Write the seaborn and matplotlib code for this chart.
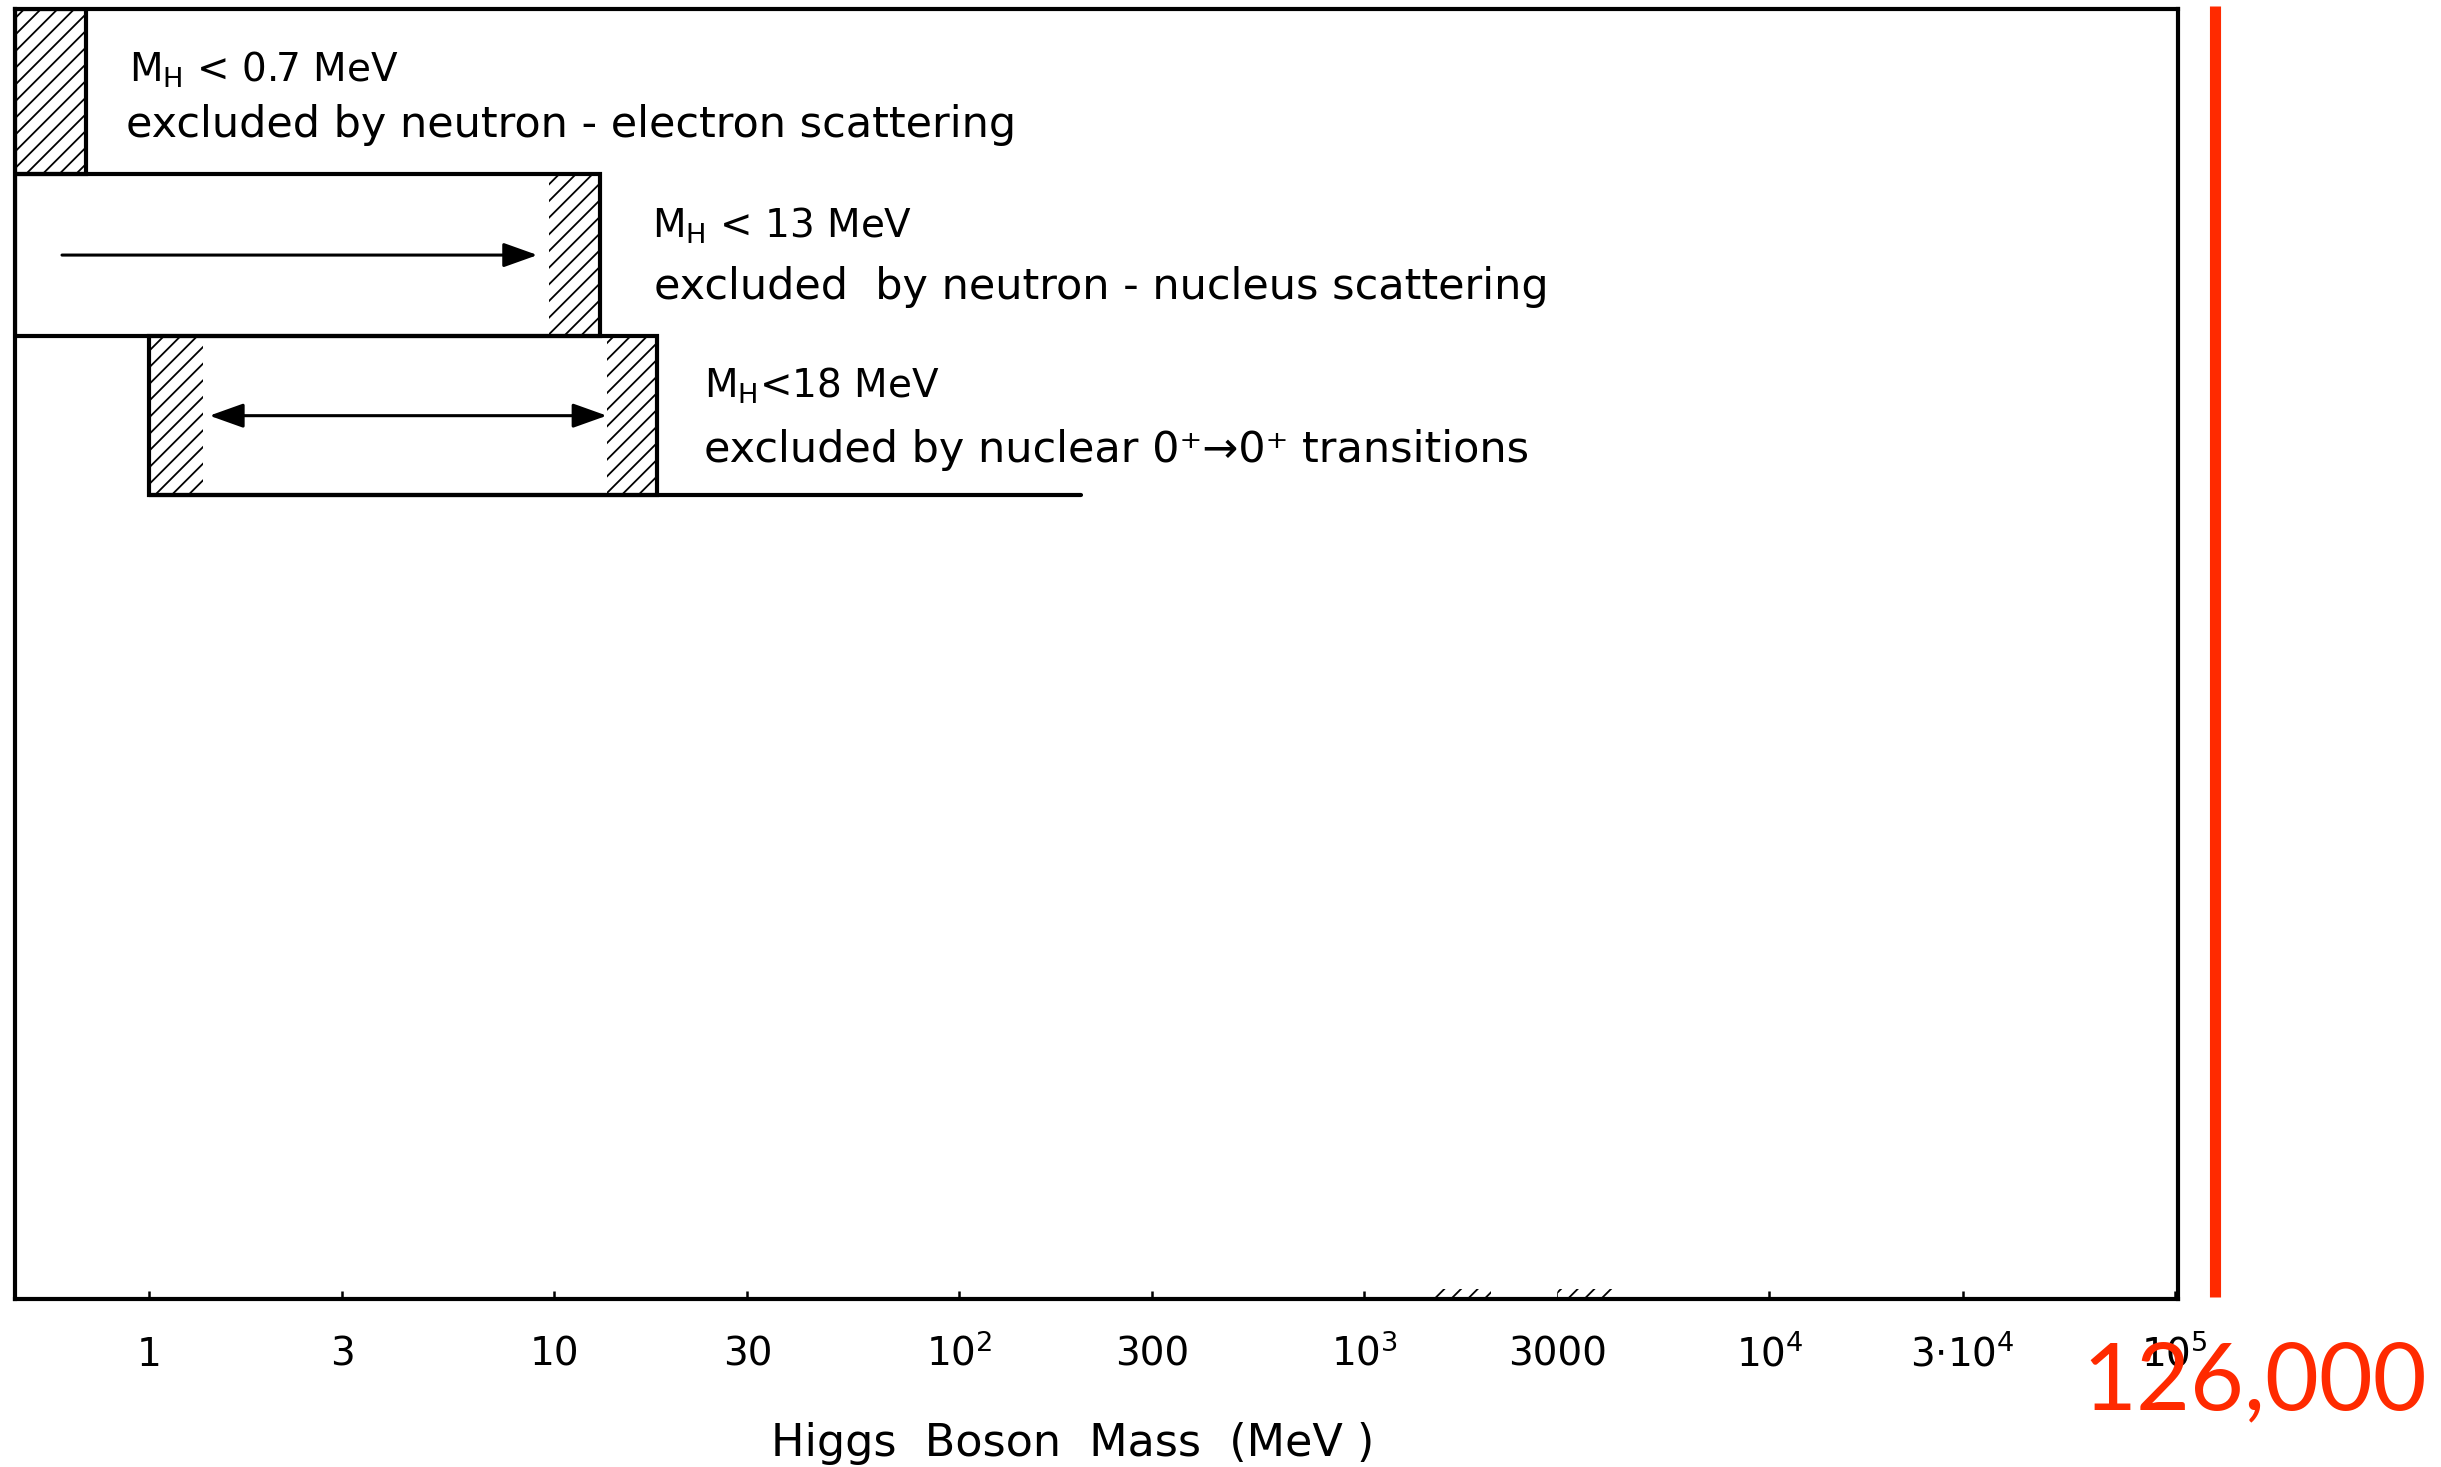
import matplotlib
matplotlib.use("Agg")
import matplotlib.pyplot as plt
from matplotlib.patches import Rectangle
import seaborn as sns

# ---------------- data ----------------
# Higgs mass axis (MeV, logarithmic)
mass_min, mass_max = 0.467, 1.02e5
tick_values = [1, 3, 10, 30, 100, 300, 1000, 3000, 1e4, 3e4, 1e5]
tick_labels = ["1", "3", "10", "30", r"$10^2$", "300", r"$10^3$", "3000",
               r"$10^4$", r"$3{\cdot}10^4$", r"$10^5$"]

# excluded regions, one row per measurement
limit_mev = [0.7, 13, 18]
region_start = [mass_min, mass_min, 1.0]
row_top = [1.0, 0.872, 0.7465]
row_bottom = [0.872, 0.7465, 0.623]

# hatched uncertainty zones at the region edges (MeV)
hatch_start = [[mass_min], [9.7], [1.0, 13.5]]
hatch_end = [[0.7], [13.0], [1.36, 18.0]]

# arrows inside the regions (MeV)
arrow_start = [None, 0.61, 1.41]
arrow_end = [None, 9.1, 13.5]
arrow_kind = [None, "-|>", "<|-|>"]

# lower edge of the last row continues up to this mass (MeV)
baseline_end = 200

# small hatched bands sitting on the mass axis (MeV)
axis_band_start = [1480, 3000]
axis_band_end = [2050, 4200]

# annotation of the observed Higgs mass (MeV)
observed_mass = 126000
observed_label = "126,000"

limit_titles = [r"$\mathregular{M_H}$ < 0.7 MeV",
                r"$\mathregular{M_H}$ < 13 MeV",
                r"$\mathregular{M_H}$<18 MeV"]
limit_texts = ["excluded by neutron - electron scattering",
               "excluded  by neutron - nucleus scattering",
               "excluded by nuclear 0\u207a\u21920\u207a transitions"]
x_title = "Higgs  Boson  Mass  (MeV )"

# ---------------- layout ----------------
title_x = [0.893, 17.4, 23.5]
title_y = [0.944, 0.823, 0.699]
text_x = [0.88, 17.6, 23.5]
text_y = [0.901, 0.775, 0.649]

sns.set_theme(style="white", rc={"axes.edgecolor": "black",
                                 "axes.labelcolor": "black",
                                 "text.color": "black",
                                 "xtick.color": "black"})
plt.rcParams["font.family"] = ["DejaVu Sans"]
plt.rcParams["mathtext.fontset"] = "dejavusans"
plt.rcParams["mathtext.default"] = "regular"
plt.rcParams["hatch.linewidth"] = 1.3
plt.rcParams["hatch.color"] = "black"

fig = plt.figure(figsize=(24.41, 14.67), dpi=100)
ax = fig.add_axes([15 / 2441, 1 - 1299 / 1467, 2163 / 2441, 1290 / 1467])
ax.set_xscale("log")
ax.set_xlim(mass_min, mass_max)
ax.set_ylim(0, 1)

for sp in ax.spines.values():
    sp.set_linewidth(3)
    sp.set_color("black")

lw_box = 3.0
for i in range(len(limit_mev)):
    x0, x1 = region_start[i], limit_mev[i]
    y0, y1 = row_bottom[i], row_top[i]
    # hatched edge zones
    for h0, h1 in zip(hatch_start[i], hatch_end[i]):
        ax.add_patch(Rectangle((h0, y0), h1 - h0, y1 - y0, facecolor="white",
                               edgecolor="black", hatch="//", linewidth=0, zorder=2))
    # outline of the region
    ax.add_patch(Rectangle((x0, y0), x1 - x0, y1 - y0, facecolor="none",
                           edgecolor="black", linewidth=lw_box, zorder=3))
    # arrow
    if arrow_kind[i] is not None:
        yc = 0.5 * (y0 + y1)
        ax.annotate("", xy=(arrow_end[i], yc), xytext=(arrow_start[i], yc),
                    arrowprops=dict(arrowstyle=arrow_kind[i] + ",head_length=0.7,head_width=0.25",
                                    mutation_scale=30, lw=2.2, color="black",
                                    shrinkA=0, shrinkB=0), zorder=4)
    ax.text(title_x[i], title_y[i], limit_titles[i], fontsize=28, ha="left",
            va="baseline", color="black")
    ax.text(text_x[i], text_y[i], limit_texts[i], fontsize=31, ha="left",
            va="baseline", color="black")

# continuation of the last row's lower edge
sns.lineplot(x=[region_start[-1], baseline_end], y=[row_bottom[-1], row_bottom[-1]],
             ax=ax, color="black", linewidth=lw_box, zorder=3)

# hatched bands on the axis
for b0, b1 in zip(axis_band_start, axis_band_end):
    ax.add_patch(Rectangle((b0, 0), b1 - b0, 0.008, facecolor="white",
                           edgecolor="black", hatch="//", linewidth=0, zorder=2,
                           clip_on=False))

# ticks
ax.set_xticks(tick_values, tick_labels, fontsize=28, va="baseline", color="black")
ax.xaxis.set_minor_locator(matplotlib.ticker.NullLocator())
ax.tick_params(axis="x", which="major", direction="in", length=6, width=1.8,
               pad=48, bottom=True, top=False, colors="black")
ax.set_yticks([])

ax.set_xlabel(x_title, fontsize=32, va="baseline", color="black")
ax.xaxis.set_label_coords(0.489, -0.1217)

# observed mass marker
red = "#ff2a00"
ax.plot([observed_mass, observed_mass], [0.0016, 1.0023], color=red, lw=8,
        solid_capstyle="butt", clip_on=False, zorder=5)
fig.text(0.9238, 0.0395, observed_label, ha="center", va="baseline", color=red,
         fontsize=67, family=["Lato", "DejaVu Sans"], zorder=10)

fig.savefig("out.png", dpi=100, facecolor="white")
